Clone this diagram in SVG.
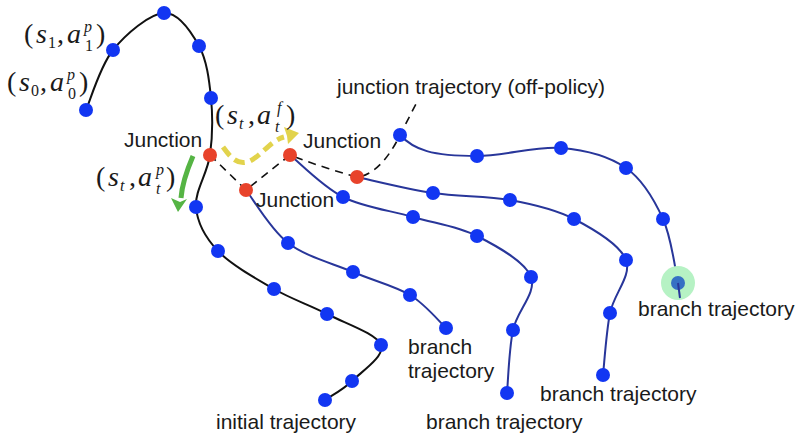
<svg xmlns="http://www.w3.org/2000/svg" width="798" height="434" viewBox="0 0 798 434">
  <style>
    .lbl { font-family: "Liberation Sans", Arial, sans-serif; font-size: 21px; fill: #1a1a1a; }
    .m { font-family: "Liberation Serif", "Times New Roman", serif; font-size: 28px; fill: #1a1a1a; }
    .it { font-style: italic; }
    .sm { font-size: 16px; }
    .init { fill: none; stroke: #111; stroke-width: 2; }
    .br { fill: none; stroke: #28369a; stroke-width: 2; }
    .junc { fill: none; stroke: #111; stroke-width: 1.6; stroke-dasharray: 8 6; }
    .dot { fill: #1236f2; }
    .red { fill: #e8432b; }
  </style>

  <!-- connectors: trajectories -->
  <g id="connectors">
    <path id="initial-trajectory" class="init" d="M86,110 C90.5,100 100,66.2 113,50 C126,33.8 149.7,13.7 164,13 C178.3,12.3 191.2,31.8 199,46 C206.8,60.2 209.2,79.8 211,98 C212.8,116.2 212.5,136.8 210,155 C207.5,173.2 194.7,191 196,207 C197.3,223 205,237.3 218,251 C231,264.7 255.8,278.5 274,289 C292.2,299.5 309.2,304.7 327,314 C344.8,323.3 376.8,333.8 381,345 C385.2,356.2 361.3,371.8 352,381 C342.7,390.2 329.5,396.8 325,400"/>
    <path id="branch-1" class="br" d="M246,190 C253,198.8 270.2,229.3 288,243 C305.8,256.7 332.7,263.3 353,272 C373.3,280.7 394.5,285.7 410,295 C425.5,304.3 440,322.5 446,328"/>
    <path id="branch-2" class="br" d="M290,155 C298.8,162 322.5,186.7 343,197 C363.5,207.3 390.7,210.5 413,217 C435.3,223.5 457.3,226 477,236 C496.7,246 525,261.3 531,277 C537,292.7 517,310.7 513,330 C509,349.3 508,382.5 507,393"/>
    <path id="branch-3" class="br" d="M357,177 C369.7,179.7 407.5,189.2 433,193 C458.5,196.8 486.5,195.7 510,200 C533.5,204.3 554.7,209 574,219 C593.3,229 620,244.3 626,260 C632,275.7 613.8,293.8 610,313 C606.2,332.2 604.2,364.7 603,375"/>
    <path id="branch-4" class="br" d="M400,135 C414,150 432,156 477,156 C503.8,156 536.2,146 561,148 C585.8,150 609,156.2 626,168 C643,179.8 654.3,199.8 663,219 C671.7,238.2 675.2,270 678,283 L680,298"/>
    <path id="junction-trajectory" class="junc" d="M210,155 L246,190 L290,155 C310,163 335,171 357,177 C372,176 388,160 400,135 L418,100"/>

    <!-- policy action arrow (green) -->
    <path d="M193,156 C187,170 182,184 181,198" fill="none" stroke="#55b444" stroke-width="5"/>
    <polygon points="178,212 171,198 180,202 187,199" fill="#55b444"/>
    <!-- forced action arrow (yellow, dashed) -->
    <path d="M223,147 C231,158 238,166 250,161 C262,155 270,141 284,137" fill="none" stroke="#e2d34c" stroke-width="5" stroke-dasharray="11 6"/>
    <polygon points="299,133 284,127 287,136 288,144" fill="#e2d34c"/>
  </g>

  <!-- highlighted final state -->
  <g id="highlight">
    <circle cx="678" cy="283" r="17" fill="#b6f2c4"/>
    <circle cx="678" cy="283" r="7" fill="#3670c4"/>
    <path d="M678,283 L680,298" stroke="#28369a" stroke-width="2"/>
  </g>

  <!-- state nodes on the initial trajectory -->
  <g id="initial-nodes">
    <circle class="dot" cx="86" cy="110" r="7"/>
    <circle class="dot" cx="113" cy="50" r="7"/>
    <circle class="dot" cx="164" cy="13" r="7"/>
    <circle class="dot" cx="199" cy="46" r="7"/>
    <circle class="dot" cx="211" cy="98" r="7"/>
    <circle class="dot" cx="196" cy="207" r="7"/>
    <circle class="dot" cx="218" cy="251" r="7"/>
    <circle class="dot" cx="274" cy="289" r="7"/>
    <circle class="dot" cx="327" cy="314" r="7"/>
    <circle class="dot" cx="381" cy="345" r="7"/>
    <circle class="dot" cx="352" cy="381" r="7"/>
    <circle class="dot" cx="325" cy="400" r="7"/>
  </g>

  <g id="branch-1-nodes">
    <circle class="dot" cx="288" cy="243" r="7"/>
    <circle class="dot" cx="353" cy="272" r="7"/>
    <circle class="dot" cx="410" cy="295" r="7"/>
    <circle class="dot" cx="446" cy="328" r="7"/>
  </g>

  <g id="branch-2-nodes">
    <circle class="dot" cx="343" cy="197" r="7"/>
    <circle class="dot" cx="413" cy="217" r="7"/>
    <circle class="dot" cx="477" cy="236" r="7"/>
    <circle class="dot" cx="531" cy="277" r="7"/>
    <circle class="dot" cx="513" cy="330" r="7"/>
    <circle class="dot" cx="507" cy="393" r="7"/>
  </g>

  <g id="branch-3-nodes">
    <circle class="dot" cx="433" cy="193" r="7"/>
    <circle class="dot" cx="510" cy="200" r="7"/>
    <circle class="dot" cx="574" cy="219" r="7"/>
    <circle class="dot" cx="626" cy="260" r="7"/>
    <circle class="dot" cx="610" cy="313" r="7"/>
    <circle class="dot" cx="603" cy="375" r="7"/>
  </g>

  <g id="branch-4-nodes">
    <circle class="dot" cx="400" cy="135" r="7"/>
    <circle class="dot" cx="477" cy="156" r="7"/>
    <circle class="dot" cx="561" cy="148" r="7"/>
    <circle class="dot" cx="626" cy="168" r="7"/>
    <circle class="dot" cx="663" cy="219" r="7"/>
  </g>

  <!-- junction states -->
  <g id="junctions">
    <circle class="red" cx="210" cy="155" r="7"/>
    <circle class="red" cx="246" cy="190" r="7"/>
    <circle class="red" cx="290" cy="155" r="7"/>
    <circle class="red" cx="357" cy="177" r="7"/>
  </g>

  <!-- state-action labels: glyphs placed individually for math spacing -->
  <g id="math-labels">
    <text class="m" y="43"><tspan x="24">(</tspan><tspan x="36" class="it">s</tspan><tspan x="48" dy="5" class="sm">1</tspan><tspan x="57" dy="-5">,</tspan><tspan x="67" class="it">a</tspan><tspan x="84" dy="-11" class="sm it">p</tspan><tspan x="85" dy="19" class="sm">1</tspan><tspan x="96" dy="-8">)</tspan></text>
    <text class="m" y="91"><tspan x="7">(</tspan><tspan x="19" class="it">s</tspan><tspan x="31" dy="5" class="sm">0</tspan><tspan x="40" dy="-5">,</tspan><tspan x="50" class="it">a</tspan><tspan x="67" dy="-11" class="sm it">p</tspan><tspan x="68" dy="19" class="sm">0</tspan><tspan x="79" dy="-8">)</tspan></text>
    <text class="m" y="124"><tspan x="215">(</tspan><tspan x="227" class="it">s</tspan><tspan x="239" dy="5" class="sm it">t</tspan><tspan x="248" dy="-5">,</tspan><tspan x="257" class="it">a</tspan><tspan x="277" dy="-11" class="sm it">f</tspan><tspan x="275" dy="19" class="sm it">t</tspan><tspan x="286" dy="-8">)</tspan></text>
    <text class="m" y="186"><tspan x="96">(</tspan><tspan x="108" class="it">s</tspan><tspan x="120" dy="5" class="sm it">t</tspan><tspan x="129" dy="-5">,</tspan><tspan x="138" class="it">a</tspan><tspan x="156" dy="-11" class="sm it">p</tspan><tspan x="156" dy="19" class="sm it">t</tspan><tspan x="166" dy="-8">)</tspan></text>
  </g>

  <!-- text labels -->
  <g id="labels">
    <text class="lbl" x="124" y="147">Junction</text>
    <text class="lbl" x="303" y="148">Junction</text>
    <text class="lbl" x="256" y="207">Junction</text>
    <text class="lbl" x="337" y="94">junction trajectory (off-policy)</text>
    <text class="lbl" x="408" y="354">branch</text>
    <text class="lbl" x="408" y="378">trajectory</text>
    <text class="lbl" x="216" y="429">initial trajectory</text>
    <text class="lbl" x="426" y="429">branch trajectory</text>
    <text class="lbl" x="540" y="401">branch trajectory</text>
    <text class="lbl" x="638" y="316">branch trajectory</text>
  </g>
</svg>
